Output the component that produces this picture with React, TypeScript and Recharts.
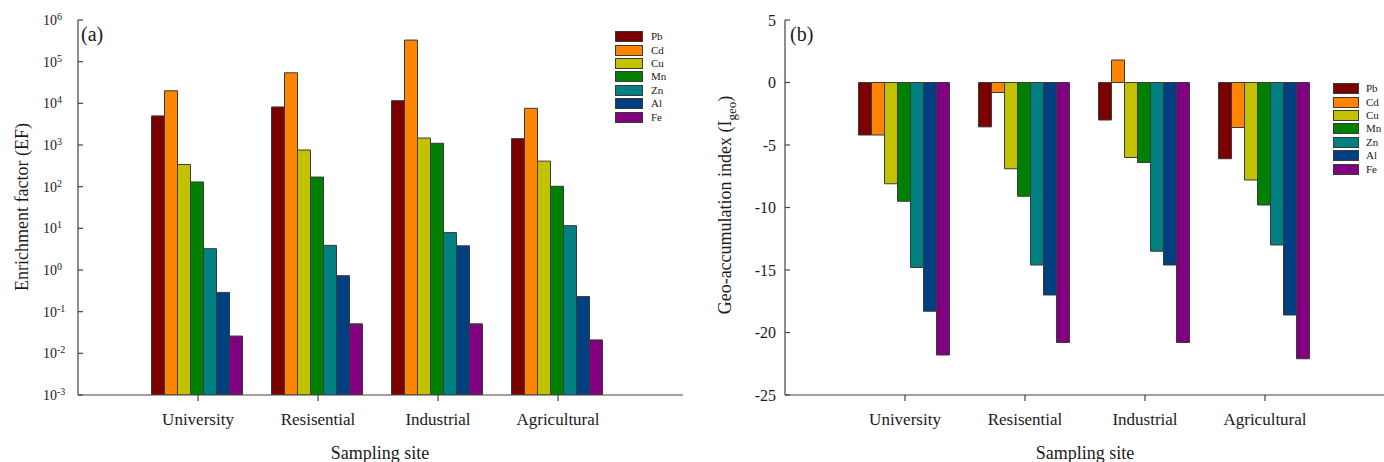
import React from 'react'
import { BarChart, Bar, XAxis, YAxis, Legend } from 'recharts'

const sites = ['University', 'Resisential', 'Industrial', 'Agricultural']
const metals = ['Pb', 'Cd', 'Cu', 'Mn', 'Zn', 'Al', 'Fe']
const metalColors = ['#7b0000', '#ff8400', '#c2c200', '#008000', '#008080', '#003f80', '#800080']

// (a) enrichment factor, one value per site
const efPb = [5000, 8200, 11600, 1420]
const efCd = [20000, 54000, 330000, 7600]
const efCu = [340, 760, 1470, 410]
const efMn = [130, 170, 1100, 102]
const efZn = [3.25, 3.9, 7.9, 11.6]
const efAl = [0.29, 0.73, 3.8, 0.23]
const efFe = [0.026, 0.051, 0.051, 0.021]

// (b) geo-accumulation index, one value per site
const igeoPb = [-4.2, -3.55, -3.0, -6.1]
const igeoCd = [-4.2, -0.8, 1.8, -3.6]
const igeoCu = [-8.1, -6.9, -6.0, -7.8]
const igeoMn = [-9.5, -9.1, -6.4, -9.8]
const igeoZn = [-14.8, -14.6, -13.5, -13.0]
const igeoAl = [-18.3, -17.0, -14.6, -18.6]
const igeoFe = [-21.8, -20.8, -20.8, -22.1]

const efTicks = [1e-3, 1e-2, 1e-1, 1, 10, 100, 1e3, 1e4, 1e5, 1e6]
const igeoTicks = [-25, -20, -15, -10, -5, 0, 5]

const SERIF = '"Liberation Serif", "Times New Roman", serif'
const AXIS = '#444'
const TEXT = '#1a1a1a'

function toRows(series: number[][]) {
  return sites.map((site, i) => {
    const row: Record<string, string | number> = { site }
    metals.forEach((m, j) => {
      row[m] = series[j][i]
    })
    return row
  })
}

const efData = toRows([efPb, efCd, efCu, efMn, efZn, efAl, efFe])
const igeoData = toRows([igeoPb, igeoCd, igeoCu, igeoMn, igeoZn, igeoAl, igeoFe])

function LogTick({ x, y, payload }: any) {
  const exp = Math.round(Math.log10(payload.value))
  return (
    <g>
      <line x1={x} x2={x + 5} y1={y} y2={y} stroke={AXIS} strokeWidth={1.2} />
      <text x={x - 35} y={y} dy="0.36em" fontSize={14} fill={TEXT} fontFamily={SERIF}>
        10
        <tspan dy={-5} fontSize={10}>
          {exp}
        </tspan>
      </text>
    </g>
  )
}

function LinTick({ x, y, payload }: any) {
  return (
    <g>
      <line x1={x} x2={x + 5} y1={y} y2={y} stroke={AXIS} strokeWidth={1.2} />
      <text x={x - 9} y={y} dy="0.36em" textAnchor="end" fontSize={16} fill={TEXT} fontFamily={SERIF}>
        {payload.value}
      </text>
    </g>
  )
}

function MetalLegend({ swatchW, textGap }: { swatchW: number; textGap: number }) {
  return (
    <div style={{ fontFamily: SERIF, fontSize: 11, color: TEXT }}>
      {metals.map((m, i) => (
        <div key={m} style={{ display: 'flex', alignItems: 'center', height: 13.4 }}>
          <div
            style={{
              width: swatchW,
              height: 9,
              background: metalColors[i],
              border: '1px solid #3a3a3a',
              marginRight: textGap,
            }}
          />
          <span style={{ lineHeight: '11px' }}>{m}</span>
        </div>
      ))}
    </div>
  )
}

function Bars() {
  return metals.map((m, i) => (
    <Bar
      key={m}
      dataKey={m}
      name={m}
      fill={metalColors[i]}
      stroke="#3a3a3a"
      strokeWidth={1}
      isAnimationActive={false}
    />
  ))
}

const xAxisProps = {
  dataKey: 'site',
  interval: 0 as const,
  height: 30,
  tickSize: 6,
  tickMargin: 12,
  tickLine: { stroke: AXIS, strokeWidth: 1.2 },
  axisLine: { stroke: AXIS, strokeWidth: 1.2 },
  tick: { fontSize: 17, fill: TEXT, fontFamily: SERIF },
}

const abs = (left: number, top: number, extra: React.CSSProperties = {}): React.CSSProperties => ({
  position: 'absolute',
  left,
  top,
  fontFamily: SERIF,
  color: TEXT,
  whiteSpace: 'nowrap',
  lineHeight: 1,
  ...extra,
})

export default function App() {
  return (
    <div style={{ position: 'absolute', left: 0, top: 0, width: 1384, height: 462, background: '#fff' }}>
      <div style={{ position: 'absolute', left: 0, top: 0 }}>
        <BarChart
          width={700}
          height={462}
          data={efData}
          margin={{ top: 20, right: 17, bottom: 37, left: 0 }}
          barCategoryGap={13.5}
          barGap={0}
        >
          <XAxis {...xAxisProps} padding={{ left: 60, right: 65 }} />
          <YAxis
            width={78}
            type="number"
            scale="log"
            domain={[0.001, 1000000]}
            allowDataOverflow
            ticks={efTicks}
            interval={0}
            tickSize={0}
            tickMargin={0}
            tickLine={false}
            axisLine={{ stroke: AXIS, strokeWidth: 1.2 }}
            tick={<LogTick />}
          />
          {Bars()}
          <Legend
            layout="vertical"
            align="center"
            verticalAlign="middle"
            wrapperStyle={{ position: 'absolute', left: 615, top: 30, width: 60 }}
            content={() => <MetalLegend swatchW={26} textGap={8} />}
          />
        </BarChart>
      </div>
      <div style={{ position: 'absolute', left: 690, top: 0 }}>
        <BarChart
          width={694}
          height={462}
          data={igeoData}
          margin={{ top: 20, right: 0, bottom: 37, left: 0 }}
          barCategoryGap={13.5}
          barGap={0}
        >
          <XAxis {...xAxisProps} padding={{ left: 60, right: 59 }} />
          <YAxis
            width={95}
            type="number"
            domain={[-25, 5]}
            allowDataOverflow
            ticks={igeoTicks}
            interval={0}
            tickSize={0}
            tickMargin={0}
            tickLine={false}
            axisLine={{ stroke: AXIS, strokeWidth: 1.2 }}
            tick={<LinTick />}
          />
          {Bars()}
          <Legend
            layout="vertical"
            align="center"
            verticalAlign="middle"
            wrapperStyle={{ position: 'absolute', left: 643, top: 82, width: 50 }}
            content={() => <MetalLegend swatchW={24} textGap={7} />}
          />
        </BarChart>
      </div>

      <div style={abs(81, 24, { fontSize: 20 })}>(a)</div>
      <div style={abs(790, 24, { fontSize: 20 })}>(b)</div>

      <div style={abs(22, 207, { fontSize: 18, transform: 'translate(-50%, -50%) rotate(-90deg)' })}>
        Enrichment factor (EF)
      </div>
      <div style={abs(727, 205, { fontSize: 18, transform: 'translate(-50%, -50%) rotate(-90deg)' })}>
        Geo-accumulation index (I<sub style={{ fontSize: 13 }}>geo</sub>)
      </div>

      <div style={abs(380, 453, { fontSize: 18, transform: 'translate(-50%, -50%)' })}>Sampling site</div>
      <div style={abs(1085, 453, { fontSize: 18, transform: 'translate(-50%, -50%)' })}>Sampling site</div>
    </div>
  )
}
